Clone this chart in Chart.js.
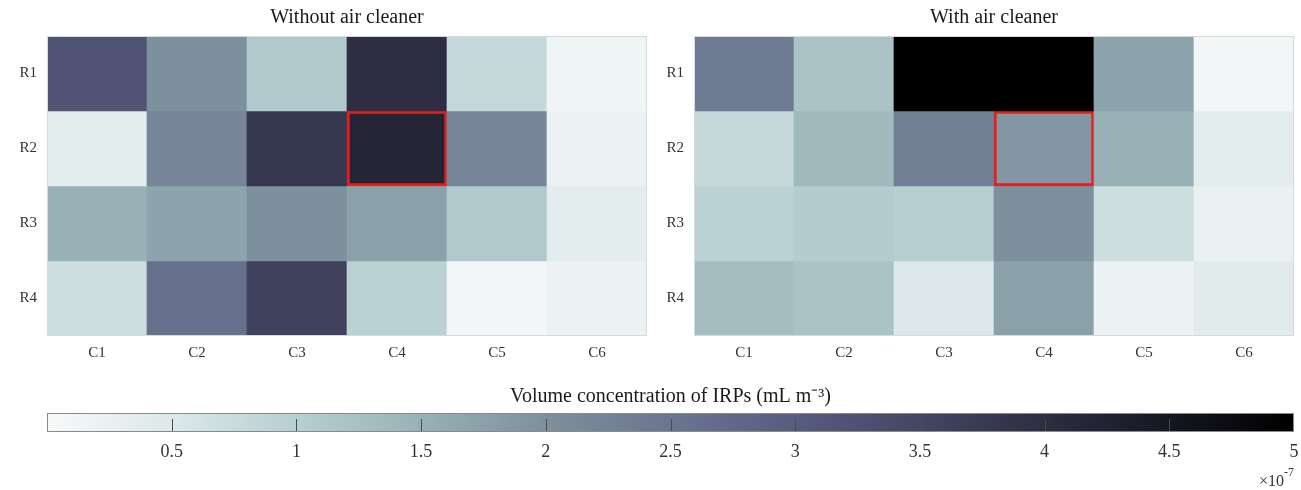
<!DOCTYPE html>
<html>
<head>
<meta charset="utf-8">
<script src="https://cdn.jsdelivr.net/npm/chart.js@4/dist/chart.umd.min.js"></script>
<style>
  body { margin: 0; background: #fff; }
  #wrap { position: relative; width: 1301px; height: 490px; }
  .box { position: absolute; }
</style>
</head>
<body>
<div id="wrap">
  <div class="box" style="left:0;top:0;width:660px;height:370px"><canvas id="withoutChart"></canvas></div>
  <div class="box" style="left:650px;top:0;width:651px;height:370px"><canvas id="withChart"></canvas></div>
  <div class="box" style="left:0;top:370px;width:1301px;height:120px"><canvas id="colorbarChart"></canvas></div>
</div>
<script>
// grid labels
var columns = ['C1', 'C2', 'C3', 'C4', 'C5', 'C6'];
var rows = ['R1', 'R2', 'R3', 'R4'];

// IRP volume concentration, x1e-7 mL m^-3, one array per row (R1..R4)
var withoutCleaner = [
    [3.2, 2.0, 1.1, 4.0, 0.8, 0.15],
    [0.35, 2.2, 3.8, 4.2, 2.2, 0.2],
    [1.5, 1.7, 2.0, 1.75, 1.1, 0.35],
    [0.7, 2.6, 3.6, 0.95, 0.1, 0.2]
];
var withCleaner = [
    [2.4, 1.2, 5.0, 5.0, 1.7, 0.1],
    [0.8, 1.35, 2.3, 1.9, 1.5, 0.35],
    [0.95, 1.05, 1.0, 2.0, 0.7, 0.25],
    [1.3, 1.2, 0.5, 1.75, 0.2, 0.4]
];

// sampling point marked in red on both maps
var markedRow = 'R2';
var markedCol = 'C4';

// colour bar
var cbMin = 0;
var cbMax = 5;
var cbTicks = [0.5, 1, 1.5, 2, 2.5, 3, 3.5, 4, 4.5, 5];

// colormap stops
var cmapValues = [0, 0.5, 1, 1.5, 2, 2.5, 3, 3.5, 4, 4.5, 5];
var cmapColors = ['#f7f9f9', '#dce8e9', '#b6cfd1', '#97b1b6', '#7d909e', '#6b7590',
                  '#585c7d', '#444663', '#2d2d43', '#161622', '#000000'];

Chart.defaults.font.family = '"Liberation Serif", "Times New Roman", serif';
Chart.defaults.color = '#333';

function hexToRgb(h) {
    return [parseInt(h.substr(1, 2), 16), parseInt(h.substr(3, 2), 16), parseInt(h.substr(5, 2), 16)];
}

function colorFor(v) {
    v = Math.max(cmapValues[0], Math.min(cmapValues[cmapValues.length - 1], v));
    for (var i = 0; i < cmapValues.length - 1; i++) {
        if (v <= cmapValues[i + 1]) {
            var t = (v - cmapValues[i]) / (cmapValues[i + 1] - cmapValues[i]);
            var a = hexToRgb(cmapColors[i]), b = hexToRgb(cmapColors[i + 1]);
            var c = a.map(function(x, k) { return Math.round(x + (b[k] - x) * t); });
            return 'rgb(' + c.join(',') + ')';
        }
    }
    return cmapColors[cmapColors.length - 1];
}

// title text centred over the plot area
var panelTitle = {
    id: 'panelTitle',
    afterDraw: function(chart, args, opts) {
        var a = chart.chartArea, c = chart.ctx;
        c.save();
        c.font = '20px ' + Chart.defaults.font.family;
        c.fillStyle = '#1a1a1a';
        c.textAlign = 'center';
        c.textBaseline = 'middle';
        c.fillText(opts.text, (a.left + a.right) / 2, opts.y);
        c.restore();
    }
};

// thin box round the plot area
var frame = {
    id: 'frame',
    afterDatasetsDraw: function(chart, args, opts) {
        var a = chart.chartArea, c = chart.ctx;
        c.save();
        c.strokeStyle = opts.color;
        c.lineWidth = 1;
        c.strokeRect(a.left + 0.5, a.top + 0.5, a.right - a.left - 1, a.bottom - a.top - 1);
        c.restore();
    }
};

function heatmap(id, title, values, yWidth, rightPad) {
    var datasets = rows.map(function(row, r) {
        return {
            label: row,
            data: columns.map(function() { return [r, r + 1]; }),
            backgroundColor: values[r].map(colorFor),
            borderColor: '#e3201b',
            borderWidth: columns.map(function(col) {
                return (row === markedRow && col === markedCol) ? 3 : 0;
            }),
            borderSkipped: false,
            barPercentage: 1,
            categoryPercentage: 1
        };
    });

    return new Chart(document.getElementById(id).getContext('2d'), {
        type: 'bar',
        data: { labels: columns, datasets: datasets },
        plugins: [panelTitle, frame],
        options: {
            responsive: true,
            maintainAspectRatio: false,
            animation: false,
            layout: { padding: { top: 36, right: rightPad, left: 0, bottom: 0 } },
            plugins: {
                legend: { display: false },
                tooltip: { enabled: false },
                panelTitle: { text: title, y: 18 },
                frame: { color: '#d5dadb' }
            },
            scales: {
                x: {
                    stacked: true,
                    grid: { display: false, drawTicks: false },
                    border: { display: false },
                    ticks: { font: { size: 15 }, padding: 8 },
                    afterFit: function(s) { s.height = 34; }
                },
                y: {
                    stacked: false,
                    min: 0,
                    max: rows.length,
                    reverse: true,
                    grid: { display: false, drawTicks: false },
                    border: { display: false },
                    afterBuildTicks: function(s) {
                        s.ticks = rows.map(function(r, i) { return { value: i + 0.5 }; });
                    },
                    ticks: {
                        font: { size: 15 },
                        padding: 10,
                        callback: function(v, i) { return rows[i]; }
                    },
                    afterFit: function(s) { s.width = yWidth; }
                }
            }
        }
    });
}

heatmap('withoutChart', 'Without air cleaner', withoutCleaner, 47, 13);
heatmap('withChart', 'With air cleaner', withCleaner, 44, 7);

// tick marks inside the colour bar plus the exponent label
var cbDecor = {
    id: 'cbDecor',
    afterDatasetsDraw: function(chart) {
        var a = chart.chartArea, c = chart.ctx, xs = chart.scales.x;
        c.save();
        c.strokeStyle = '#4a4a4a';
        c.lineWidth = 1;
        cbTicks.forEach(function(t) {
            if (t >= cbMax) return;
            var x = Math.round(xs.getPixelForValue(t)) + 0.5;
            c.beginPath();
            c.moveTo(x, a.bottom);
            c.lineTo(x, a.bottom - 13);
            c.stroke();
        });
        c.strokeStyle = '#8a8a8a';
        c.strokeRect(a.left + 0.5, a.top + 0.5, a.right - a.left - 1, a.bottom - a.top - 1);

        c.fillStyle = '#333';
        c.textBaseline = 'alphabetic';
        c.textAlign = 'right';
        c.font = '12px ' + Chart.defaults.font.family;
        c.fillText('-7', a.right, 106);
        var w = c.measureText('-7').width;
        c.font = '16px ' + Chart.defaults.font.family;
        c.fillText('\u00d710', a.right - w, 116);
        c.restore();
    }
};

new Chart(document.getElementById('colorbarChart').getContext('2d'), {
    type: 'bar',
    data: {
        labels: ['IRPs'],
        datasets: [{
            data: [[cbMin, cbMax]],
            backgroundColor: function(ctx) {
                var chart = ctx.chart, xs = chart.scales.x;
                if (!chart.chartArea || !xs) return cmapColors[0];
                var g = chart.ctx.createLinearGradient(xs.getPixelForValue(cbMin), 0, xs.getPixelForValue(cbMax), 0);
                cmapValues.forEach(function(v) {
                    g.addColorStop((v - cbMin) / (cbMax - cbMin), colorFor(v));
                });
                return g;
            },
            borderWidth: 0,
            barPercentage: 1,
            categoryPercentage: 1
        }]
    },
    plugins: [panelTitle, cbDecor],
    options: {
        indexAxis: 'y',
        responsive: true,
        maintainAspectRatio: false,
        animation: false,
        layout: { padding: { top: 43, left: 47, right: 7, bottom: 0 } },
        plugins: {
            legend: { display: false },
            tooltip: { enabled: false },
            panelTitle: { text: 'Volume concentration of IRPs (mL m\u207b\u00b3)', y: 27 }
        },
        scales: {
            x: {
                min: cbMin,
                max: cbMax,
                grid: { display: false, drawTicks: false },
                border: { display: false },
                afterBuildTicks: function(s) {
                    s.ticks = cbTicks.map(function(t) { return { value: t }; });
                },
                ticks: {
                    font: { size: 18 },
                    padding: 9,
                    maxRotation: 0,
                    callback: function(v) { return String(v); }
                },
                afterFit: function(s) {
                    s.height = 58;
                    s.paddingLeft = 0;
                    s.paddingRight = 0;
                }
            },
            y: { display: false }
        }
    }
});
</script>
</body>
</html>
